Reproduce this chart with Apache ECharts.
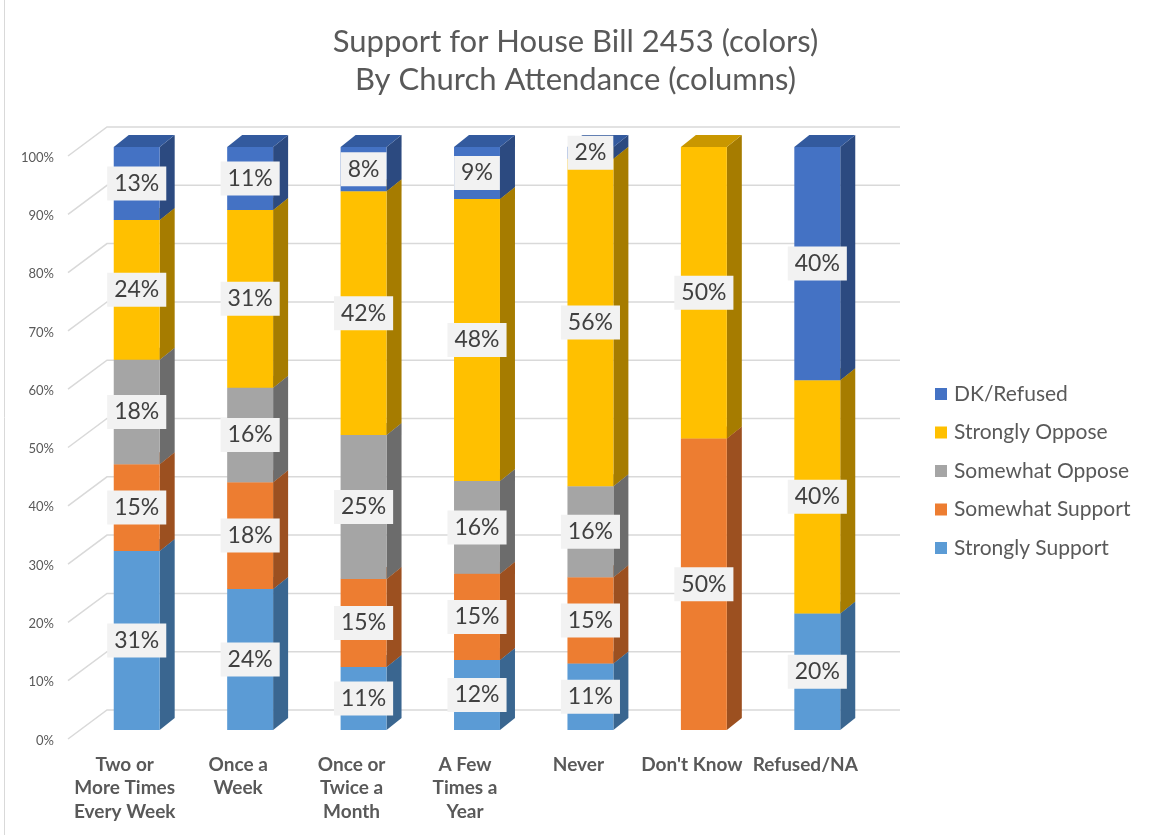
<!DOCTYPE html>
<html>
<head>
<meta charset="utf-8">
<script src="https://cdn.jsdelivr.net/npm/echarts@6/dist/echarts.min.js"></script>
<style>html,body{margin:0;padding:0;background:#fff}#chart{width:1151px;height:835px}</style>
</head>
<body>
<div id="chart"></div>
<script>
const categories = ['Two or\nMore Times\nEvery Week', 'Once a\nWeek', 'Once or\nTwice a\nMonth', 'A Few\nTimes a\nYear', 'Never', "Don't Know", 'Refused/NA'];
const seriesNames = ['Strongly Support', 'Somewhat Support', 'Somewhat Oppose', 'Strongly Oppose', 'DK/Refused'];
const stronglySupport = [30.7, 24.2, 10.8, 12.0, 11.4, 0, 20.0];
const somewhatSupport = [14.9, 18.3, 15.1, 14.8, 14.8, 50.0, 0];
const somewhatOppose  = [17.9, 16.2, 24.7, 15.9, 15.6, 0, 0];
const stronglyOppose  = [24.0, 30.5, 41.8, 48.4, 56.2, 50.0, 40.0];
const dkRefused       = [12.5, 10.8, 7.6, 8.9, 2.0, 0, 40.0];
const yTicks = [0, 10, 20, 30, 40, 50, 60, 70, 80, 90, 100];
const legendOrder = ['DK/Refused', 'Strongly Oppose', 'Somewhat Oppose', 'Somewhat Support', 'Strongly Support'];

const seriesValues = [stronglySupport, somewhatSupport, somewhatOppose, stronglyOppose, dkRefused];
const colors = {
  'Strongly Support': {front: '#5B9BD5', side: '#3A6690', top: '#4A80B3'},
  'Somewhat Support': {front: '#ED7D31', side: '#9C5020', top: '#C46628'},
  'Somewhat Oppose':  {front: '#A5A5A5', side: '#6C6C6C', top: '#898989'},
  'Strongly Oppose':  {front: '#FFC000', side: '#A67C00', top: '#C99700'},
  'DK/Refused':       {front: '#4472C4', side: '#2C4A80', top: '#335A9E'}
};
const DX = 15, DY = 12;

const chart = echarts.init(document.getElementById('chart'));

function stackData(idx) {
  return categories.map((c, i) => {
    let start = 0;
    for (let k = 0; k < idx; k++) start += seriesValues[k][i];
    const v = seriesValues[idx][i];
    return [i, start, start + v, v];
  });
}

const barSeries = seriesNames.map((name, idx) => ({
  name: name,
  type: 'custom',
  z: 3,
  itemStyle: {color: colors[name].front},
  data: stackData(idx),
  encode: {x: 0, y: [1, 2]},
  renderItem: function (params, api) {
    const v = api.value(3);
    if (!(v > 0)) return null;
    const c = colors[name];
    const p0 = api.coord([api.value(0), api.value(1)]);
    const p1 = api.coord([api.value(0), api.value(2)]);
    const bw = api.size([1, 0])[0] * 0.405;
    const x0 = p0[0] - bw / 2, x1 = p0[0] + bw / 2;
    const yb = p0[1], yt = p1[1];
    return {
      type: 'group',
      children: [
        {type: 'polygon', shape: {points: [[x1, yb], [x1, yt], [x1 + DX, yt - DY], [x1 + DX, yb - DY]]}, style: {fill: c.side}},
        {type: 'polygon', shape: {points: [[x0, yt], [x1, yt], [x1 + DX, yt - DY], [x0 + DX, yt - DY]]}, style: {fill: c.top}},
        {type: 'rect', shape: {x: x0, y: yt, width: bw, height: yb - yt}, style: {fill: c.front}},
        {type: 'text', z2: 10, style: {
          text: Math.round(v) + '%', x: p0[0], y: (yb + yt) / 2,
          align: 'center', verticalAlign: 'middle',
          font: '23px Lato', fill: '#404040',
          backgroundColor: '#F2F2F2', padding: [6, 7, 5, 7]
        }}
      ]
    };
  }
}));

const gridSeries = {
  name: 'grid3d',
  type: 'custom',
  z: 1,
  silent: true,
  data: yTicks.map(t => [0, t]),
  encode: {x: 0, y: 1},
  renderItem: function (params, api) {
    const cs = params.coordSys;
    const y = api.coord([0, api.value(1)])[1];
    return {
      type: 'polyline',
      shape: {points: [[cs.x - 12, y + 9], [cs.x + 27, y - 20], [cs.x + cs.width + 26, y - 20]]},
      style: {stroke: '#D9D9D9', lineWidth: 1.5, fill: null}
    };
  }
};

chart.setOption({
  backgroundColor: '#ffffff',
  animation: false,
  title: {
    text: 'Support for House Bill 2453 (colors)\nBy Church Attendance (columns)',
    left: 'center',
    top: 18,
    textStyle: {fontFamily: 'Lato', fontSize: 31, fontWeight: 'normal', color: '#595959', lineHeight: 38}
  },
  legend: {
    data: legendOrder,
    orient: 'vertical',
    left: 930,
    top: 378,
    icon: 'rect',
    itemWidth: 12,
    itemHeight: 12,
    itemGap: 16.5,
    textStyle: {fontFamily: 'Lato', fontSize: 21, color: '#595959', lineHeight: 22, padding: [0, 0, 0, 2]}
  },
  grid: {left: 80, width: 794, top: 147, height: 583},
  xAxis: {
    type: 'category',
    data: categories,
    axisLine: {show: false},
    axisTick: {show: false},
    axisLabel: {
      interval: 0, margin: 23,
      fontFamily: 'Lato', fontSize: 19, fontWeight: 'bold', color: '#595959',
      lineHeight: 23.5, padding: [0, 24, 0, 0]
    }
  },
  yAxis: {
    type: 'value', min: 0, max: 100, interval: 10,
    axisLine: {show: false},
    axisTick: {show: false},
    splitLine: {show: false},
    axisLabel: {
      formatter: '{value}%', margin: 26,
      fontFamily: 'Lato', fontSize: 13, color: '#595959',
      verticalAlign: 'top', lineHeight: 21
    }
  },
  graphic: [
    {type: 'line', shape: {x1: 4.5, y1: 0, x2: 4.5, y2: 835}, style: {stroke: '#D9D9D9', lineWidth: 1}}
  ],
  series: [gridSeries].concat(barSeries)
});
</script>
</body>
</html>
